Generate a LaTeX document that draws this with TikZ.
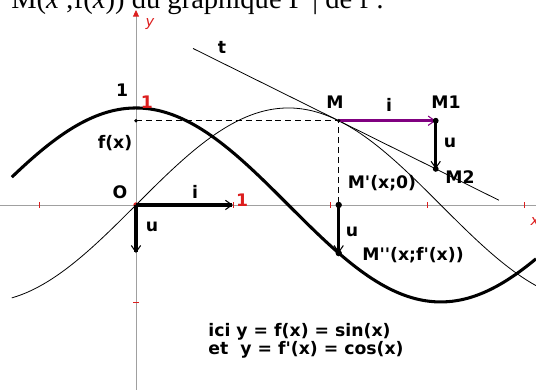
\documentclass[tikz,border=0pt]{standalone}
\usepackage{fontspec}
\setmainfont{Liberation Serif}
\newfontfamily\lblfont{DejaVu Sans}
\usetikzlibrary{arrows.meta,calc}
\definecolor{axisgray}{RGB}{160,160,160}
\definecolor{tickred}{RGB}{220,30,30}
\definecolor{vecpurple}{RGB}{128,0,128}
\tikzset{
  lbl/.style={font=\lblfont\bfseries\fontsize{13}{14}\selectfont, inner sep=0pt},
  vec/.style={line width=2.4pt, -{Straight Barb[length=5pt,width=7pt,line width'=0.8pt]}},
}
\def\xo{2.09}

\begin{document}
\begin{tikzpicture}[x=2.566cm, y=2.566cm, line width=0.6pt]
  \useasboundingbox (-1.402,-1.907) rectangle (4.124,2.113);
  \clip (-1.402,-1.907) rectangle (4.124,2.113);
  % line of text above, cut by the frame
  \node[anchor=base west, inner sep=0pt, font=\fontsize{21.5}{23}\selectfont] (head) at (-1.29,2.03)
    {M(\textit{x} ;f(\textit{x})) du graphique Γ | de f :};

  % axes
  \draw[axisgray] (-1.402,0) -- (4.124,0);
  \draw[axisgray, -{Triangle[length=5pt,width=4.5pt,color=tickred]}] (0,-1.907) -- (0,2.01);
  \foreach \k in {-1,1,2,3,4}
    \draw[tickred] (\k,-0.03) -- (\k,0.03);
  \foreach \k in {-1,1}
    \draw[tickred] (-0.03,\k) -- (0.03,\k);
  \fill[tickred] (0,0) circle (2pt);
  \node[tickred, inner sep=0pt, font=\lblfont\itshape\fontsize{11}{11}\selectfont] (ylab) at (0.144,1.87) {y};
  \node[tickred, inner sep=0pt, font=\lblfont\itshape\fontsize{11}{11}\selectfont] (xlab) at (4.113,-0.175) {x};

  % f = sin (thin) and f' = cos (thick)
  \draw[domain=-1.28:4.124, samples=120, smooth] plot (\x,{sin(\x r)});
  \draw[line width=2.3pt, domain=-1.28:4.124, samples=120, smooth] plot (\x,{cos(\x r)});

  % points
  \coordinate (O) at (0,0);
  \coordinate (I) at (1,0);
  \coordinate (U) at (0,{cos(\xo r)});
  \coordinate (M) at (\xo,{sin(\xo r)});
  \coordinate (M1) at ($(M)+(1,0)$);
  \coordinate (M2) at ($(M1)+(0,{cos(\xo r)})$);
  \coordinate (Mp) at (\xo,0);
  \coordinate (Mpp) at (\xo,{cos(\xo r)});
  \coordinate (fx) at (0,{sin(\xo r)});
  \coordinate (tA) at (0.588,{sin(\xo r)+cos(\xo r)*(0.588-\xo)});
  \coordinate (tB) at (3.742,{sin(\xo r)+cos(\xo r)*(3.742-\xo)});

  % tangent and projections
  \draw (tA) -- (tB);
  \draw[dash pattern=on 4.5pt off 3pt] (fx) -- (M) -- (Mp);

  % vectors
  \draw[vec] (O) -- (I);
  \draw[vec] (O) -- (U);
  \draw[vec, vecpurple] (M) -- (M1);
  \draw[vec] (M1) -- (M2);
  \draw[vec] (Mp) -- (Mpp);
  \fill (fx) circle (1.4pt);
  \fill (M) circle (1.4pt);
  \fill (M1) circle (2.2pt);
  \fill (M2) circle (2.2pt);
  \fill (Mp) circle (2.4pt);
  \fill (Mpp) circle (2.4pt);

  % labels
  \node[lbl] (one) at (-0.144,1.186) {1};
  \node[lbl, tickred] (oney) at (0.113,1.062) {1};
  \node[lbl] (fxlab) at (-0.216,0.639) {f(x)};
  \node[lbl] (Olab) at (-0.165,0.134) {O};
  \node[lbl] (ilab) at (0.608,0.134) {i};
  \node[lbl, tickred] (onex) at (1.093,0.052) {1};
  \node[lbl] (ulab) at (0.165,-0.227) {u};
  \node[lbl] (Mlab) at (2.052,1.062) {M};
  \node[lbl] (ilabM) at (2.608,1.031) {i};
  \node[lbl] (M1lab) at (3.196,1.062) {M1};
  \node[lbl] (ulabM) at (3.237,0.639) {u};
  \node[lbl] (M2lab) at (3.340,0.289) {M2};
  \node[lbl] (Mplab) at (2.536,0.227) {M'(x;0)};
  \node[lbl] (ulabMp) at (2.227,-0.278) {u};
  \node[lbl] (Mpplab) at (2.856,-0.515) {M''(x;f'(x))};
  \node[lbl] (tlab) at (0.887,1.629) {t};
  \node[lbl, anchor=west, align=left] (legend) at (0.742,-1.40)
    {ici y = f(x) = sin(x)\\et\ \ y = f'(x) = cos(x)};
\end{tikzpicture}
\end{document}
